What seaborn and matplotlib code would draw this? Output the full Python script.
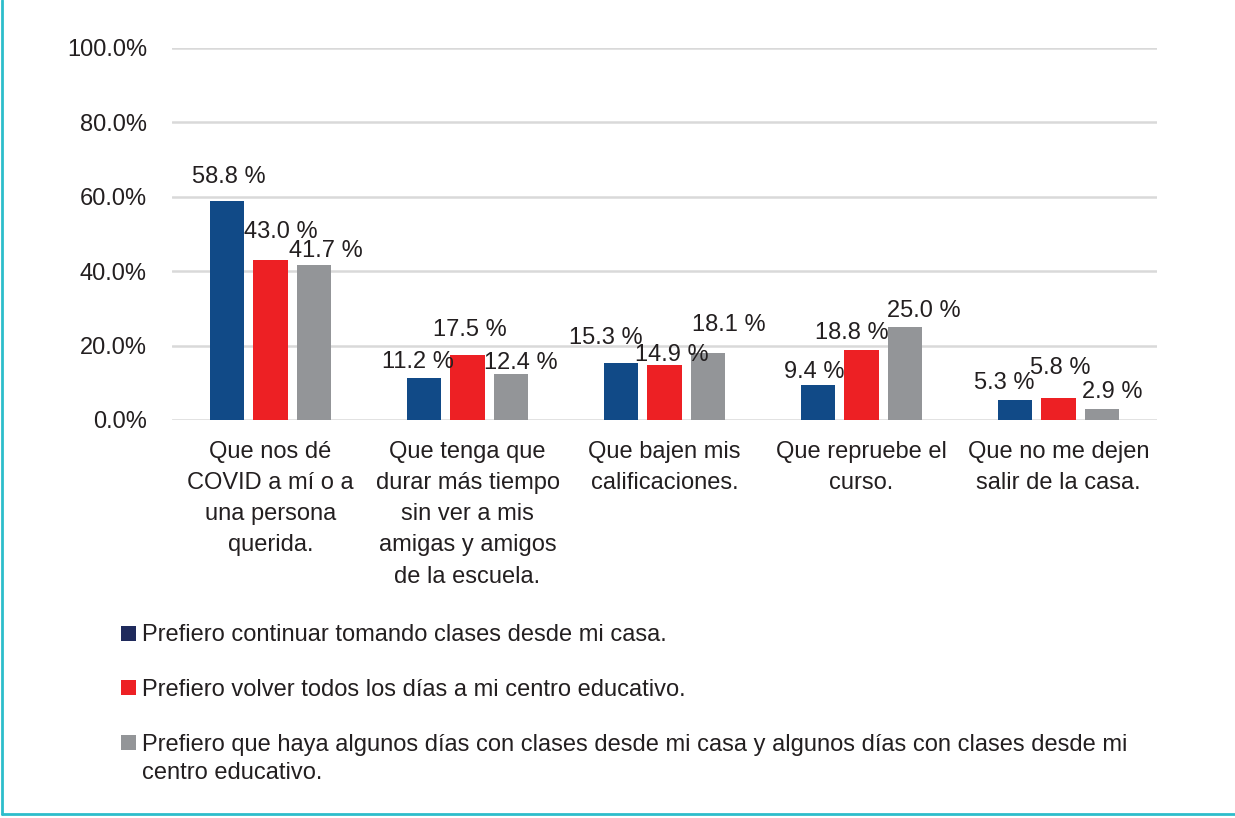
import matplotlib
matplotlib.use("Agg")
import matplotlib.pyplot as plt
from matplotlib.lines import Line2D
from matplotlib.patches import Patch
import seaborn as sns
import pandas as pd

# Worries by preferred school modality (% of respondents)
categories = [
    "Que nos dé\nCOVID a mí o a\nuna persona\nquerida.",
    "Que tenga que\ndurar más tiempo\nsin ver a mis\namigas y amigos\nde la escuela.",
    "Que bajen mis\ncalificaciones.",
    "Que repruebe el\ncurso.",
    "Que no me dejen\nsalir de la casa.",
]
series_names = [
    "Prefiero continuar tomando clases desde mi casa.",
    "Prefiero volver todos los días a mi centro educativo.",
    "Prefiero que haya algunos días con clases desde mi casa y algunos días con clases desde mi",
]
series_name_tail = "centro educativo."
casa = [58.8, 11.2, 15.3, 9.4, 5.3]
volver = [43.0, 17.5, 14.9, 18.8, 5.8]
mixto = [41.7, 12.4, 18.1, 25.0, 2.9]
y_ticks = [0, 20, 40, 60, 80, 100]

# Hand-placed nudges (pixels) for the value labels, per series and category
label_dx = [[2, -6, -15, -4, -11], [10, 2, 7, -10, 2], [12, 10, 21, 19, 10]]
label_dy = [[9, 1, 10, -2, 2], [13, 10, -5, 2, 15], [-1, -4, 13, 1, 2]]

bar_colors = ["#114A87", "#ED2024", "#939598"]
legend_colors = ["#1F2A5C", "#ED2024", "#939598"]
text_color = "#231F20"
border_color = "#2DBDCB"
FS = 17

W, H = 1235, 818

df = pd.DataFrame({
    "categoria": categories * 3,
    "serie": [series_names[0]] * 5 + [series_names[1]] * 5 + [series_names[2]] * 5,
    "valor": casa + volver + mixto,
})

sns.set_theme(style="white")
plt.rcParams["font.family"] = ["Liberation Sans", "DejaVu Sans"]
plt.rcParams["text.color"] = text_color

fig = plt.figure(figsize=(W / 100, H / 100), dpi=100)
ax = fig.add_axes([172 / W, 1 - 420 / H, 985 / W, 372 / H])

sns.barplot(data=df, x="categoria", y="valor", hue="serie",
            hue_order=series_names, order=categories,
            palette=bar_colors, width=0.66, gap=0.2,
            saturation=1, legend=False, ax=ax, edgecolor="none")

ax.set_ylim(0, 100)
ax.set_yticks(y_ticks)
ax.set_yticklabels([f"{t:.1f}%" for t in y_ticks])
ax.set_xlabel("")
ax.set_ylabel("")
ax.grid(axis="y", color="#D9D9D9", linewidth=1.8)
ax.set_axisbelow(True)
for s in ax.spines.values():
    s.set_visible(False)
ax.tick_params(axis="y", length=0, pad=18, labelsize=FS, labelcolor=text_color)
ax.tick_params(axis="x", length=0, pad=15, labelsize=FS, labelcolor=text_color)
for lbl in ax.get_xticklabels():
    lbl.set_linespacing(1.54)

# Value labels above each bar
for si, cont in enumerate(ax.containers):
    for ci, bar in enumerate(cont):
        h = bar.get_height()
        ax.annotate(f"{h:.1f} %",
                    xy=(bar.get_x() + bar.get_width() / 2, h),
                    xytext=(label_dx[si][ci], 15 + label_dy[si][ci]),
                    textcoords="offset pixels", ha="center", va="center",
                    fontsize=FS, color=text_color)

handles = [Patch(facecolor=c, edgecolor="none") for c in legend_colors]
leg = fig.legend(handles, series_names, loc="upper left",
                 bbox_to_anchor=(112 / W, 1 - 615 / H), frameon=False,
                 fontsize=FS, handlelength=0.6, handleheight=0.6,
                 handletextpad=0.28, labelspacing=1.38, borderaxespad=0)

# Second line of the last legend entry, set under its first line
fig.canvas.draw()
bb = leg.get_texts()[2].get_window_extent()
fig.text(bb.x0 / W, (bb.y0 - 28) / H, series_name_tail, fontsize=FS,
         color=text_color, ha="left", va="bottom")

# Frame lines on the left and bottom edges
fig.add_artist(Line2D([2 / W, 2 / W], [4 / H, 1], color=border_color,
                      linewidth=2, transform=fig.transFigure))
fig.add_artist(Line2D([2 / W, 1], [4 / H, 4 / H], color=border_color,
                      linewidth=2, transform=fig.transFigure))

fig.savefig("out.png", dpi=100, facecolor="white")
